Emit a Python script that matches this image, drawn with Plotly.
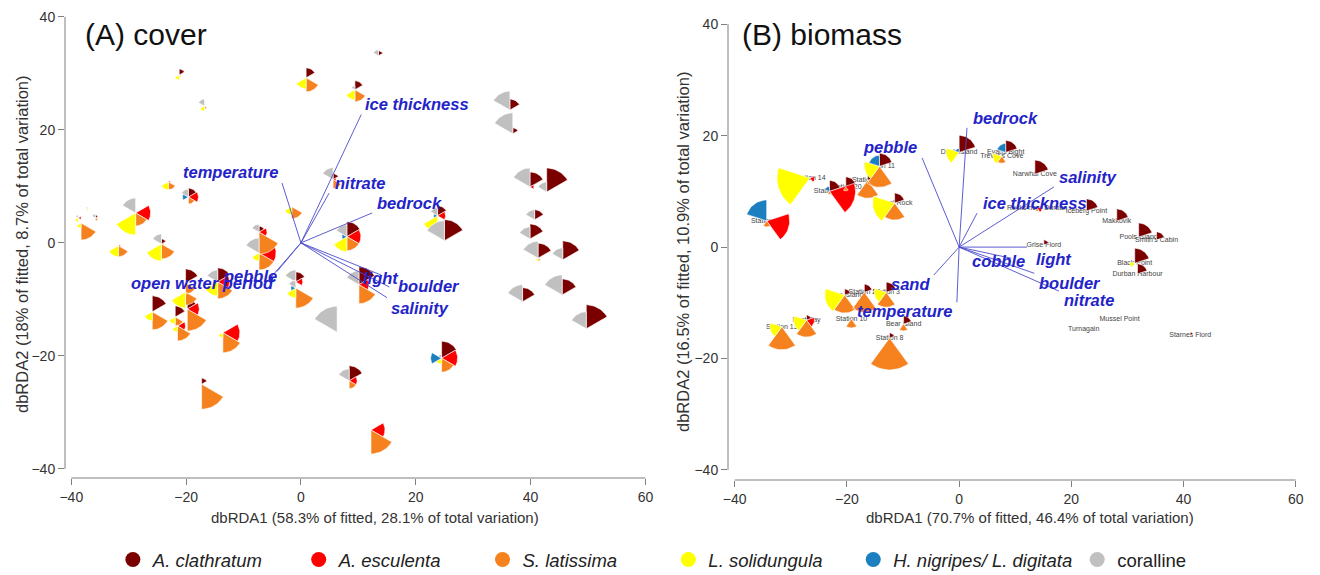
import numpy as np
import plotly.graph_objects as go

# ---------------- data ----------------
species = ["A. clathratum", "A. esculenta", "S. latissima", "L. solidungula",
           "H. nigripes/ L. digitata", "coralline"]
colors = ["#7a0000", "#ff0000", "#f5821f", "#ffff00", "#1b7fc0", "#c0c0c0"]

# (A) cover: site scores and species cover
cover_x = [-21.2, -16.8, 0.9, 9.4, 13.5, 36.4, 36.9, 39.9, 42.8, 40.7, 39.9, 41.3, 45.6, 38.6, 45.5, 49.7,
           24.5, 8.4, 12.2, -38.3, -38.8, -35.8, -37.1, -28.8, -19.6, -23.1, -31.8, -24.3, -7.3, -7.3,
           -1.6, 5.6, 8.0, 23.8, 25.0, -0.9, -0.9, 10.1, 6.3, -17.3, -13.6, -25.9, -20.1, -20.1, -21.9,
           -19.8, -21.5, -14.5]
cover_y = [29.7, 24.2, 29.2, 27.1, 33.1, 23.5, 19.3, 9.9, 9.0, 4.1, 0.7, -2.7, -3.0, -10.4, -9.2, -15.2,
           -20.4, -24.4, -33.1, 3.5, 4.4, 4.4, 6.0, 5.3, 8.1, 10.8, -0.5, -0.2, 1.9, -1.8,
           6.4, 11.2, 1.1, 4.8, 0.4, -6.9, -8.0, -7.4, -15.8, -25.0, -15.9, -12.2, -7.1, -8.7, -13.1,
           -11.7, -14.7, -6.9]
cover_clathratum = [6, 1, 10, 9, 5, 11, 6, 15, 24, 10, 15, 15, 19, 14, 16, 24, 17, 15, 0, 0, 0, 3, 0, 0,
                    9, 1, 0, 5, 6, 0, 0, 6, 15, 10, 21, 10, 0, 18, 0, 6, 0, 16, 14, 0, 11, 10, 0, 14]
cover_esculenta = [0, 0, 0, 0, 0, 0, 0, 4, 0, 0, 0, 0, 0, 0, 0, 0, 16, 8, 14, 0, 3, 2, 0, 15,
                   10, 2, 2, 2, 8, 17, 0, 3, 14, 8, 0, 7, 0, 10, 0, 0, 17, 0, 0, 0, 0, 12, 8, 12]
cover_latissima = [2, 3, 14, 12, 0, 0, 0, 0, 0, 0, 0, 3, 0, 0, 0, 0, 14, 8, 24, 17, 0, 3, 0, 13,
                   7, 8, 11, 15, 22, 17, 12, 9, 14, 0, 0, 0, 20, 19, 0, 25, 20, 18, 11, 13, 9, 22, 15, 17]
cover_solidungula = [5, 5, 11, 10, 0, 0, 0, 0, 0, 0, 0, 3, 0, 0, 0, 0, 6, 0, 0, 5, 4, 0, 2, 22,
                     0, 8, 11, 17, 0, 8, 8, 0, 15, 16, 0, 0, 10, 0, 0, 0, 5, 9, 0, 16, 7, 0, 6, 14]
cover_nigripes = [0, 0, 0, 0, 0, 0, 0, 0, 0, 0, 0, 0, 0, 0, 0, 0, 11, 0, 0, 0, 0, 0, 0, 0,
                  6, 0, 0, 0, 0, 0, 0, 0, 5, 4, 0, 0, 5, 0, 0, 0, 0, 0, 0, 0, 0, 0, 0, 0]
cover_coralline = [0, 7, 0, 4, 6, 19, 21, 19, 10, 10, 12, 17, 12, 17, 20, 17, 4, 12, 0, 0, 3, 4, 2, 15,
                   8, 0, 0, 10, 8, 15, 0, 12, 12, 8, 20, 12, 8, 14, 26, 0, 0, 0, 0, 0, 0, 0, 0, 12]

cover_vec_names = ["ice thickness", "nitrate", "temperature", "bedrock", "light", "boulder",
                   "salinity", "pebble", "open water period"]
cover_vec_x = [10.5, 4.9, -3.3, 12.4, 14.0, 15.4, 15.0, -4.2, -5.6]
cover_vec_y = [22.7, 8.8, 10.6, 5.3, -5.7, -7.8, -9.7, -5.1, -6.5]

# (B) biomass: site scores and species biomass
bio_sites = ["Station 14", "Station 15", "Station 23", "Station 20", "Station 11", "Station 25",
             "Shoal Rock", "Duck Island", "Evans Bight", "Trevor's Cove", "Narwhal Cove",
             "Rocks near Durban", "Iceberg Point", "Makkovik", "Pools Island", "Smith's Cabin",
             "Grise Fiord", "Black Point", "Durban Harbour", "Mussel Point", "Turnagain",
             "Starnes Fiord", "Hogg Island", "Station 27", "Station 3", "Station 10",
             "Bear Island", "Station 8", "Station 13", "East Bay"]
bio_x = [-26.6, -34.3, -23.1, -20.2, -14.2, -16.3, -11.5, 0.0, 8.3, 7.6, 13.5, 13.9, 22.7, 28.1, 32.0,
         35.2, 15.1, 31.3, 31.8, 28.6, 22.2, 41.2, -20.4, -16.9, -13.0, -19.2, -9.9, -12.4, -31.6, -27.2]
bio_y = [12.4, 4.7, 10.0, 10.8, 14.5, 12.0, 7.9, 17.0, 17.0, 16.3, 13.1, 7.0, 6.5, 4.7, 1.8,
         1.3, 0.4, -2.9, -4.8, -12.9, -14.7, -15.8, -8.6, -8.1, -8.1, -12.9, -13.8, -16.3, -14.3, -13.1]
bio_clathratum = [0, 0, 11, 10, 13, 6, 10, 17, 12, 0, 14, 0, 12, 12, 14, 8, 5, 15, 10, 0, 0, 3,
                  6, 8, 10, 0, 8, 5, 0, 5]
bio_esculenta = [5, 23, 26, 0, 0, 0, 0, 0, 0, 0, 0, 5, 0, 0, 0, 0, 0, 0, 0, 0, 0, 0,
                 0, 0, 0, 0, 0, 0, 0, 8]
bio_latissima = [0, 6, 3, 4, 21, 18, 17, 0, 0, 7, 0, 3, 0, 0, 0, 0, 0, 0, 0, 0, 0, 0,
                 18, 20, 15, 9, 7, 32, 23, 17]
bio_solidungula = [33, 0, 0, 0, 15, 0, 22, 13, 0, 9, 0, 0, 0, 0, 0, 0, 0, 5, 0, 0, 0, 0,
                   20, 0, 12, 0, 0, 0, 12, 13]
bio_nigripes = [0, 21, 5, 0, 11, 0, 0, 4, 9, 0, 0, 0, 0, 0, 0, 0, 0, 0, 0, 0, 0, 0,
                0, 0, 0, 0, 0, 0, 0, 0]

bio_vec_names = ["bedrock", "pebble", "salinity", "ice thickness", "cobble", "light",
                 "boulder", "nitrate", "sand", "temperature"]
bio_vec_x = [1.4, -6.6, 16.9, 3.2, 9.3, 12.1, 13.4, 17.8, -4.5, -0.4]
bio_vec_y = [21.4, 16.0, 10.8, 6.1, -2.0, 0.0, -4.7, -7.9, -5.0, -9.9]

x_ticks = [-40, -20, 0, 20, 40, 60]
y_ticks = [-40, -20, 0, 20, 40]

# ---------------- layout geometry ----------------
W, H = 1320, 575
A_XDOM = [65 / W, 650 / W]; A_XR = [-41.1, 60.8]
A_YDOM = [(H - 478) / H, (H - 14) / H]; A_YR = [-41.6, 40.5]
B_XDOM = [728 / W, 1303 / W]; B_XR = [-41.2, 61.3]
B_YDOM = [(H - 480) / H, (H - 22) / H]; B_YR = [-41.8, 40.4]


def ppu(dom, rng, size):
    return (dom[1] - dom[0]) * size / (rng[1] - rng[0])


def wedges(xs, ys, vals, k, n, sx, sy, scale=1.0):
    px, py = [], []
    t = np.linspace(2 * np.pi * k / n, 2 * np.pi * (k + 1) / n, 18)
    for cx, cy, v in zip(xs, ys, vals):
        if v <= 0:
            continue
        r = v * scale
        px += [cx] + list(cx + r * np.sin(t) / sx) + [cx, None]
        py += [cy] + list(cy + r * np.cos(t) / sy) + [cy, None]
    return px, py


SANS = "Liberation Sans, Arial, sans-serif"
VEC_COLOR = "#2323c8"
LINE_COLOR = "rgba(75,75,205,0.9)"

fig = go.Figure()

# panel A glyphs
sxA, syA = ppu(A_XDOM, A_XR, W), ppu(A_YDOM, A_YR, H)
cover_vals = [cover_clathratum, cover_esculenta, cover_latissima, cover_solidungula,
              cover_nigripes, cover_coralline]
for k, vals in enumerate(cover_vals):
    px, py = wedges(cover_x, cover_y, vals, k, 6, sxA, syA)
    fig.add_trace(go.Scatter(x=px, y=py, mode="lines", fill="toself", fillcolor=colors[k],
                             line=dict(color="white", width=0.6), hoverinfo="skip",
                             showlegend=False, xaxis="x", yaxis="y"))

# panel B glyphs
sxB, syB = ppu(B_XDOM, B_XR, W), ppu(B_YDOM, B_YR, H)
bio_vals = [bio_clathratum, bio_esculenta, bio_latissima, bio_solidungula, bio_nigripes]
fig.add_trace(go.Scatter(x=bio_x, y=bio_y, mode="text", text=bio_sites,
                         textfont=dict(size=7, color="#444", family=SANS),
                         hoverinfo="skip", showlegend=False, xaxis="x2", yaxis="y2"))
for k, vals in enumerate(bio_vals):
    px, py = wedges(bio_x, bio_y, vals, k, 5, sxB, syB)
    fig.add_trace(go.Scatter(x=px, y=py, mode="lines", fill="toself", fillcolor=colors[k],
                             line=dict(color="white", width=0.6), hoverinfo="skip",
                             showlegend=False, xaxis="x2", yaxis="y2"))


# vectors
def vec_lines(vx, vy):
    lx, ly = [], []
    for a, b in zip(vx, vy):
        lx += [0, a, None]
        ly += [0, b, None]
    return lx, ly


lx, ly = vec_lines(cover_vec_x, cover_vec_y)
fig.add_trace(go.Scatter(x=lx, y=ly, mode="lines", line=dict(color=LINE_COLOR, width=1),
                         hoverinfo="skip", showlegend=False, xaxis="x", yaxis="y"))
lx, ly = vec_lines(bio_vec_x, bio_vec_y)
fig.add_trace(go.Scatter(x=lx, y=ly, mode="lines", line=dict(color=LINE_COLOR, width=1),
                         hoverinfo="skip", showlegend=False, xaxis="x2", yaxis="y2"))

# legend entries
pad = {0: 6, 1: 7, 2: 9, 3: 5, 4: 0, 5: 0}
for k, name in enumerate(species):
    label = name if name == "coralline" else "<i>" + name + "</i>"
    label += "\u00a0" * pad[k]
    fig.add_trace(go.Scatter(x=[None], y=[None], mode="markers", name=label,
                             marker=dict(color=colors[k], size=15, symbol="circle"),
                             xaxis="x", yaxis="y"))

# vector label placement (style)
cover_lab_style = [("left", 2, 11), ("left", 4, 10), ("right", -2, 11), ("left", 3, 10),
                   ("center", 0, -3), ("left", 7, 1), ("left", 2, -10), ("right", 2, -4),
                   ("right", 7, -3)]
bio_lab_style = [("left", 4, 10), ("right", -3, 11), ("left", 3, 10), ("left", 4, 10),
                 ("right", 16, -3), ("left", 7, -12), ("left", 3, -10), ("left", 3, -9),
                 ("right", -2, -9), ("right", -3, -9)]

annotations = []
for names, vx, vy, styles, xr, yr in [
        (cover_vec_names, cover_vec_x, cover_vec_y, cover_lab_style, "x", "y"),
        (bio_vec_names, bio_vec_x, bio_vec_y, bio_lab_style, "x2", "y2")]:
    for nm, a, b, (anc, xs, ys) in zip(names, vx, vy, styles):
        annotations.append(dict(x=a, y=b, xref=xr, yref=yr, text="<b><i>" + nm + "</i></b>",
                                showarrow=False, xanchor=anc, yanchor="middle",
                                xshift=xs, yshift=ys,
                                font=dict(size=16.5, color=VEC_COLOR, family=SANS)))

# panel titles
annotations.append(dict(x=83 / W, y=(H - 35) / H, xref="paper", yref="paper", text="(A) cover",
                        showarrow=False, xanchor="left", yanchor="middle",
                        font=dict(size=30, color="#111", family=SANS)))
annotations.append(dict(x=740 / W, y=(H - 35) / H, xref="paper", yref="paper", text="(B) biomass",
                        showarrow=False, xanchor="left", yanchor="middle",
                        font=dict(size=30, color="#111", family=SANS)))
# axis titles
tfont = dict(size=15, color="#333", family=SANS)
yfont = dict(size=16.5, color="#333", family=SANS)
annotations.append(dict(x=375 / W, y=(H - 517) / H, xref="paper", yref="paper",
                        text="dbRDA1 (58.3% of fitted, 28.1% of total variation)",
                        showarrow=False, xanchor="center", yanchor="middle", font=tfont))
annotations.append(dict(x=1030 / W, y=(H - 517) / H, xref="paper", yref="paper",
                        text="dbRDA1 (70.7% of fitted, 46.4% of total variation)",
                        showarrow=False, xanchor="center", yanchor="middle", font=tfont))
annotations.append(dict(x=22 / W, y=(H - 244) / H, xref="paper", yref="paper", textangle=-90,
                        text="dbRDA2 (18% of fitted, 8.7% of total variation)",
                        showarrow=False, xanchor="center", yanchor="middle", font=yfont))
annotations.append(dict(x=683 / W, y=(H - 252) / H, xref="paper", yref="paper", textangle=-90,
                        text="dbRDA2 (16.5% of fitted, 10.9% of total variation)",
                        showarrow=False, xanchor="center", yanchor="middle", font=yfont))

# R-style axis lines spanning first to last tick
axcol = "#7f7f7f"
shapes = [
    dict(type="line", xref="x", yref="paper", x0=x_ticks[0], x1=x_ticks[-1], y0=A_YDOM[0], y1=A_YDOM[0],
         line=dict(color=axcol, width=1), layer="below"),
    dict(type="line", xref="paper", yref="y", x0=A_XDOM[0], x1=A_XDOM[0], y0=y_ticks[0], y1=y_ticks[-1],
         line=dict(color=axcol, width=1), layer="below"),
    dict(type="line", xref="x2", yref="paper", x0=x_ticks[0], x1=x_ticks[-1], y0=B_YDOM[0], y1=B_YDOM[0],
         line=dict(color=axcol, width=1), layer="below"),
    dict(type="line", xref="paper", yref="y2", x0=B_XDOM[0], x1=B_XDOM[0], y0=y_ticks[0], y1=y_ticks[-1],
         line=dict(color=axcol, width=1), layer="below"),
]

tickfont = dict(size=14, color="#333", family=SANS)
ax_common = dict(showgrid=False, zeroline=False, showline=False, ticks="outside", ticklen=6,
                 tickcolor=axcol, tickfont=tickfont, fixedrange=True, automargin=False)

fig.update_layout(
    width=W, height=H, margin=dict(l=0, r=0, t=0, b=0, autoexpand=False),
    paper_bgcolor="white", plot_bgcolor="white",
    xaxis=dict(domain=A_XDOM, range=A_XR, tickvals=x_ticks, anchor="y", **ax_common),
    yaxis=dict(domain=A_YDOM, range=A_YR, tickvals=y_ticks, anchor="x", **ax_common),
    xaxis2=dict(domain=B_XDOM, range=B_XR, tickvals=x_ticks, anchor="y2", **ax_common),
    yaxis2=dict(domain=B_YDOM, range=B_YR, tickvals=y_ticks, anchor="x2", **ax_common),
    annotations=annotations, shapes=shapes,
    legend=dict(orientation="h", x=0.0855, y=(H - 560) / H, xanchor="left", yanchor="middle",
                font=dict(size=18.5, color="#222", family=SANS), itemclick=False,
                bgcolor="rgba(0,0,0,0)"),
    showlegend=True,
)

fig.write_html("out.html", config={"displayModeBar": False},
               post_script="document.body.style.margin='0px';document.body.style.overflow='hidden';")
